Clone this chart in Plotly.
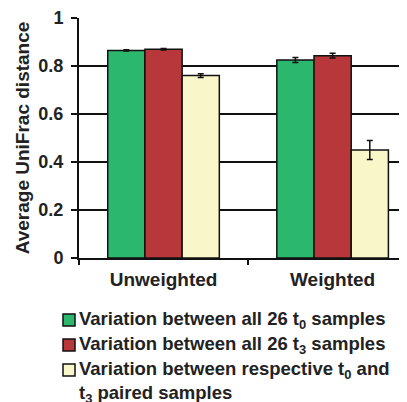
import plotly.graph_objects as go

categories = ["Unweighted", "Weighted"]
series_names = [
    "Variation between all 26 t<sub>0</sub> samples",
    "Variation between all 26 t<sub>3</sub> samples",
    "Variation between respective t<sub>0</sub> and<br>t<sub>3</sub> paired samples",
]
t0_values = [0.865, 0.825]
t3_values = [0.870, 0.843]
paired_values = [0.760, 0.450]
t0_errors = [0.003, 0.010]
t3_errors = [0.003, 0.010]
paired_errors = [0.008, 0.040]
colors = ["#2bb86e", "#b7373a", "#f9f6ca"]
y_ticks = [0, 0.2, 0.4, 0.6, 0.8, 1]
y_tick_labels = ["0", "0.2", "0.4", "0.6", "0.8", "1"]

FONT = "Liberation Sans, Arial, sans-serif"
OFF = 8  # default page body margin
W, H = 407 - OFF, 402 - OFF
ML, MR, MT, MB = 79 - OFF, 0, 18 - OFF, 144
PW, PH = W - ML - MR, H - MT - MB


def px_x(px):
    return (px - OFF - ML) / PW


def px_y(py):
    return (H - MB - (py - OFF)) / PH


fig = go.Figure()
for name, vals, errs, col in zip(series_names, [t0_values, t3_values, paired_values],
                                 [t0_errors, t3_errors, paired_errors], colors):
    fig.add_trace(go.Bar(
        x=categories, y=vals, name=name, showlegend=False,
        marker=dict(color=col, line=dict(color="#111111", width=1.5)),
        error_y=dict(type="data", array=errs, color="#111111", thickness=1.5, width=3),
    ))

# Manual legend (drawn below the plot, like the reference)
legend_rows = [320, 345, 381.5]
square_rows = [320, 345, 370]
for name, col, ty, sy in zip(series_names, colors, legend_rows, square_rows):
    fig.add_shape(type="rect", xref="paper", yref="paper",
                  x0=px_x(63), x1=px_x(75), y0=px_y(sy + 6), y1=px_y(sy - 6),
                  fillcolor=col, line=dict(color="#111111", width=1.5))
    fig.add_annotation(xref="paper", yref="paper", x=px_x(77), y=px_y(ty),
                       xanchor="left", yanchor="middle", align="left",
                       text=name, showarrow=False,
                       font=dict(family=FONT, size=18.5, color="#222222", weight="bold"))

fig.update_layout(
    width=W, height=H,
    margin=dict(l=ML, r=MR, t=MT, b=MB),
    paper_bgcolor="white", plot_bgcolor="white",
    barmode="group", bargap=0.34, bargroupgap=0,
    font=dict(family=FONT, color="#222222"),
    showlegend=False,
    xaxis=dict(
        range=[-0.5, 1.44], automargin=False,
        showline=True, linecolor="#111111", linewidth=2,
        ticks="outside", tickson="boundaries", ticklen=5, tickcolor="#111111", tickwidth=2,
        ticklabelstandoff=3,
        tickfont=dict(family=FONT, size=19, color="#222222", weight="bold"),
        showgrid=False,
    ),
    yaxis=dict(
        range=[0, 1.0], tickvals=y_ticks, ticktext=y_tick_labels, automargin=False,
        showline=True, linecolor="#111111", linewidth=2,
        ticks="outside", ticklen=6, tickcolor="#111111", tickwidth=2,
        ticklabelstandoff=4,
        showgrid=True, gridcolor="#111111", gridwidth=2,
        zeroline=False,
        tickfont=dict(family=FONT, size=18, color="#222222", weight="bold"),
        title=dict(text="Average UniFrac distance", standoff=4,
                   font=dict(family=FONT, size=19, color="#222222", weight="bold")),
    ),
)

fig.write_html("out.html")
